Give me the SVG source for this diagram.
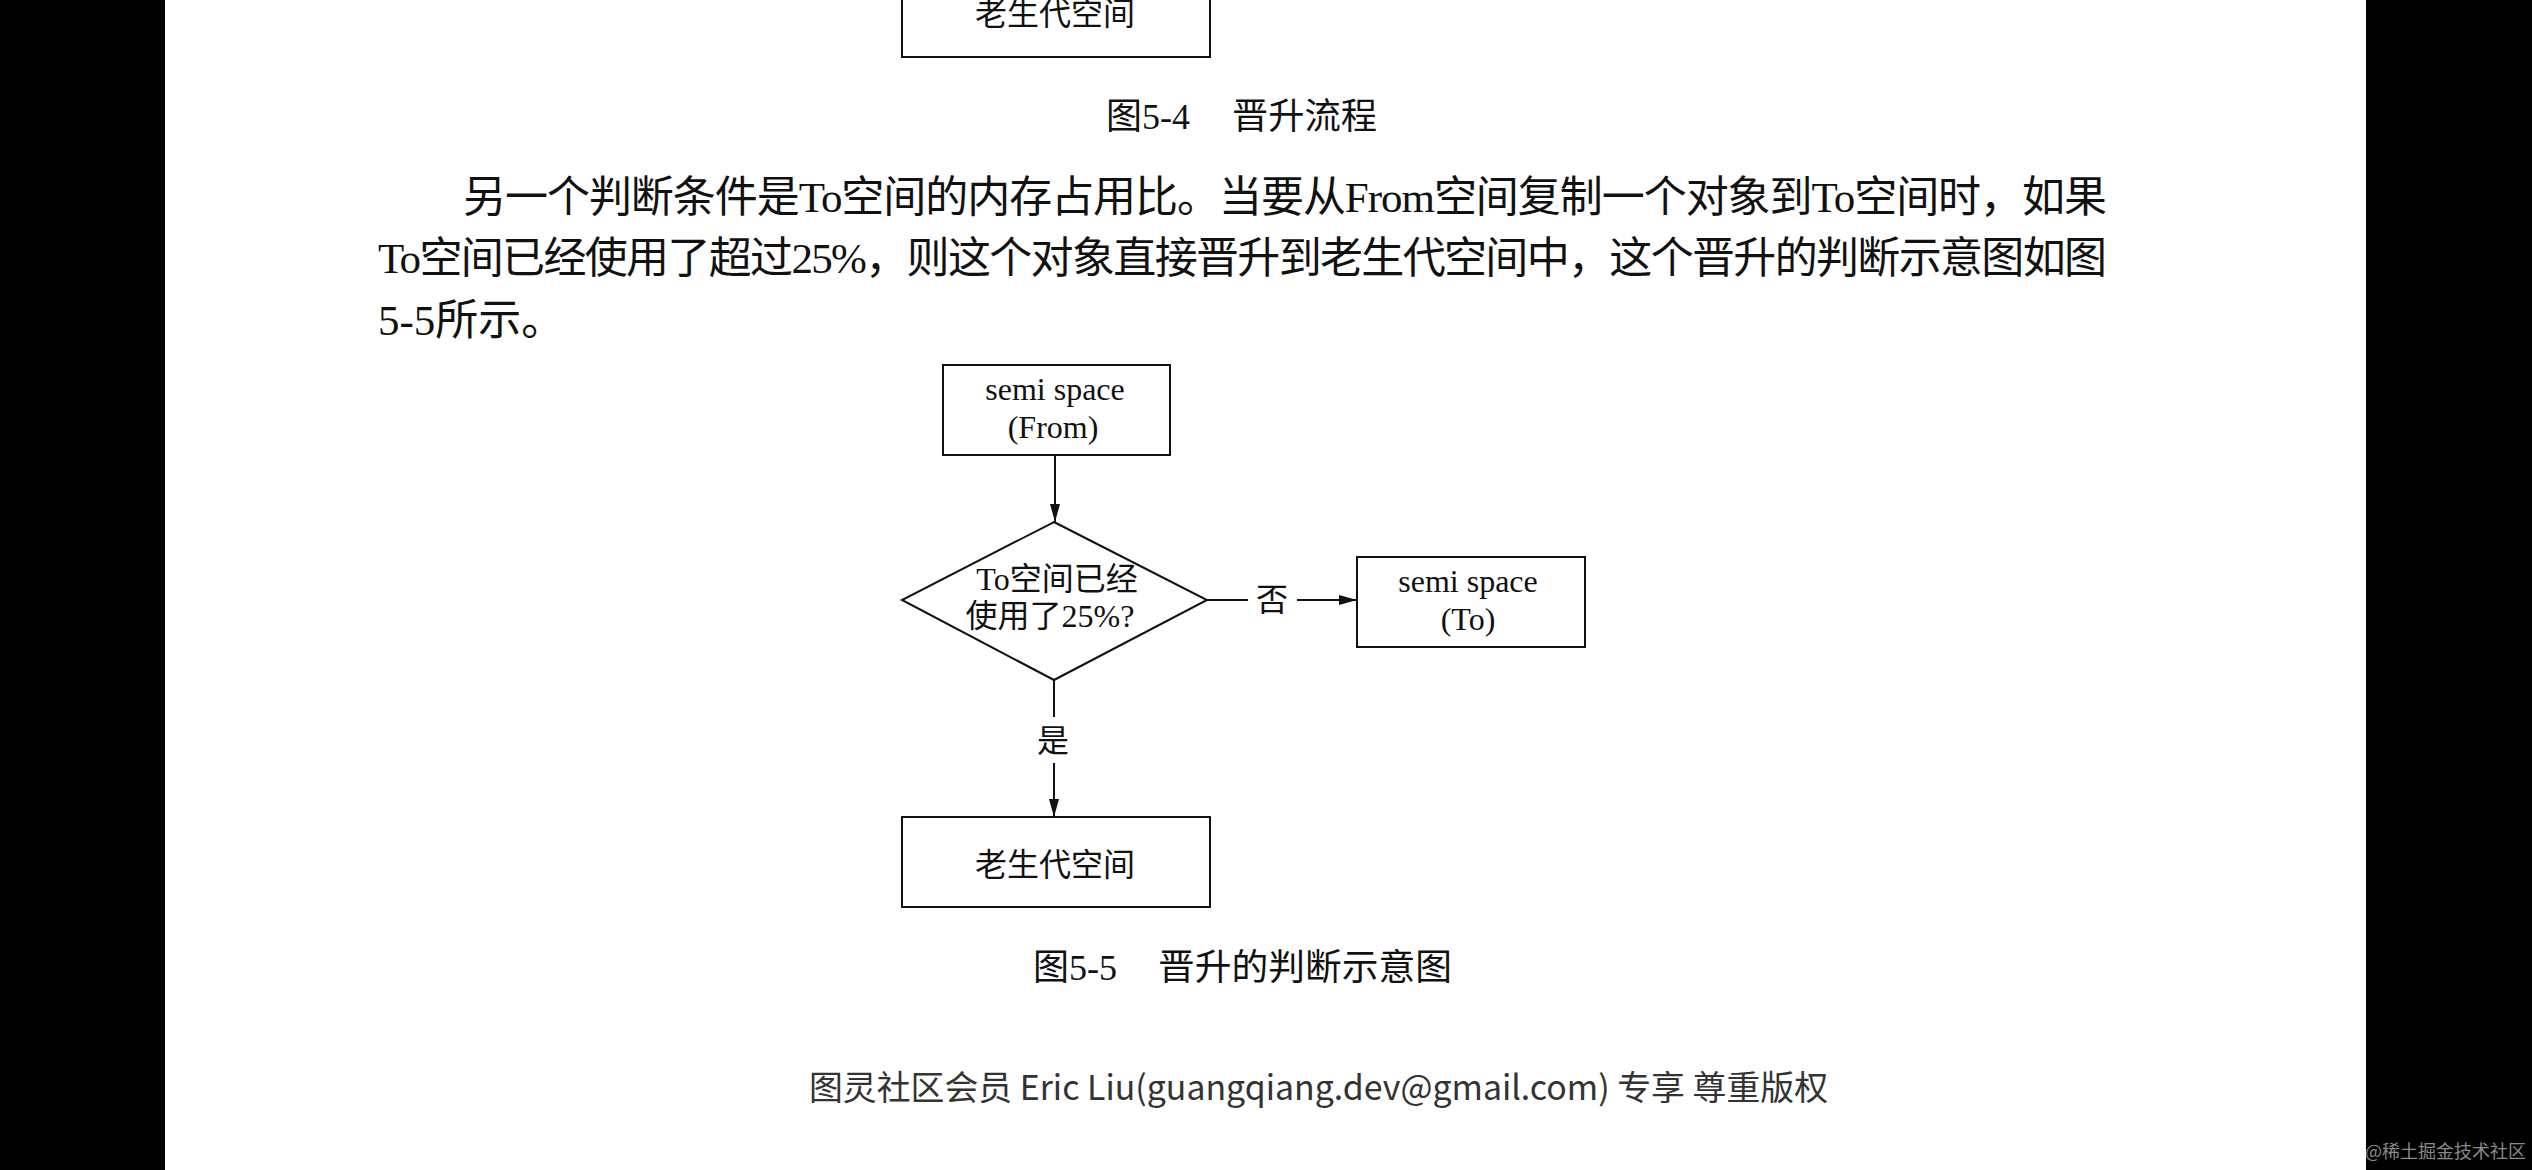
<svg xmlns="http://www.w3.org/2000/svg" width="2532" height="1170" viewBox="0 0 2532 1170">
<style>
.serif{font-family:"Liberation Serif","Noto Sans CJK SC",serif;fill:#111}
.node{fill:#fff;stroke:#111;stroke-width:2}
.lbl{font-size:32px;text-anchor:middle}
.conn{stroke:#111;stroke-width:2;fill:none}
.para{font-size:43px}
.cap{font-size:36px}
</style>
<defs>
<marker id="ah" markerWidth="18" markerHeight="10" refX="18" refY="5" orient="auto" markerUnits="userSpaceOnUse">
<path d="M0,0 L18,5 L0,10 Z" fill="#111"/>
</marker>
</defs>
<rect x="0" y="0" width="2532" height="1170" fill="#000"/>
<rect x="165" y="0" width="2201" height="1170" fill="#fff"/>

<g id="fig54-old">
<rect class="node" x="902" y="-10" width="308" height="67"/>
<text class="serif lbl" x="1055" y="25">老生代空间</text>
</g>
<text class="serif cap" x="1106" y="129">图5-4</text>
<text class="serif cap" x="1232" y="129" textLength="145" lengthAdjust="spacingAndGlyphs">晋升流程</text>

<text class="serif para" x="463" y="212" textLength="1644" lengthAdjust="spacing">另一个判断条件是To空间的内存占用比。当要从From空间复制一个对象到To空间时，如果</text>
<text class="serif para" x="378" y="273" textLength="1729" lengthAdjust="spacing">To空间已经使用了超过25%，则这个对象直接晋升到老生代空间中，这个晋升的判断示意图如图</text>
<text class="serif para" x="378" y="335">5-5所示。</text>

<g id="from">
<rect class="node" x="943" y="365" width="227" height="90"/>
<text class="serif lbl" x="1055" y="400">semi space</text>
<text class="serif lbl" x="1053" y="438">(From)</text>
</g>
<g id="decision">
<polygon class="node" points="1054,522 1207,600 1054,680 902,600"/>
<text class="serif lbl" x="1057" y="590">To空间已经</text>
<text class="serif lbl" x="1050" y="627">使用了25%?</text>
</g>
<g id="to">
<rect class="node" x="1357" y="557" width="228" height="90"/>
<text class="serif lbl" x="1468" y="592">semi space</text>
<text class="serif lbl" x="1468" y="630">(To)</text>
</g>
<g id="old">
<rect class="node" x="902" y="817" width="308" height="90"/>
<text class="serif lbl" x="1055" y="876">老生代空间</text>
</g>

<g id="connectors">
<line class="conn" x1="1055" y1="456" x2="1055" y2="522" marker-end="url(#ah)"/>
<line class="conn" x1="1207" y1="600" x2="1248" y2="600"/>
<text class="serif lbl" x="1272" y="611">否</text>
<line class="conn" x1="1297" y1="600" x2="1357" y2="600" marker-end="url(#ah)"/>
<line class="conn" x1="1054" y1="680" x2="1054" y2="717"/>
<text class="serif lbl" x="1053" y="752">是</text>
<line class="conn" x1="1054" y1="763" x2="1054" y2="817" marker-end="url(#ah)"/>
</g>

<text class="serif cap" x="1033" y="980">图5-5</text>
<text class="serif cap" x="1158" y="980" textLength="294" lengthAdjust="spacingAndGlyphs">晋升的判断示意图</text>

<text x="809" y="1100" font-size="34" fill="#333" textLength="1019" lengthAdjust="spacingAndGlyphs" style="font-family:'Noto Sans CJK SC','Noto Sans',sans-serif">图灵社区会员 Eric Liu(guangqiang.dev@gmail.com) 专享 尊重版权</text>
<text x="2365" y="1158" font-size="18" fill="#8a8a8a" style="font-family:'Noto Sans CJK SC',sans-serif">@稀土掘金技术社区</text>
</svg>
